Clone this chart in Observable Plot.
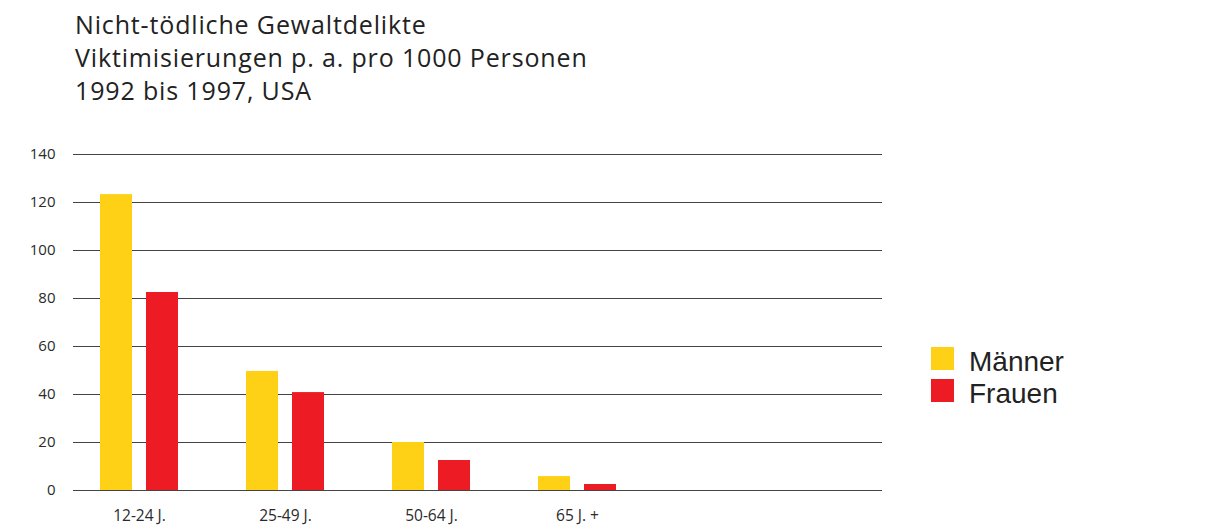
<!DOCTYPE html>
<html>
<head>
<meta charset="utf-8">
<script src="https://cdn.jsdelivr.net/npm/d3@7"></script>
<script src="https://cdn.jsdelivr.net/npm/@observablehq/plot@0.6"></script>
<style>
  html, body { margin: 0; padding: 0; background: #fff; }
  body { width: 1217px; height: 529px; position: relative; overflow: hidden; font-family: "Open Sans", "DejaVu Sans", sans-serif; }
  #title { position: absolute; left: 75px; top: 8px; font-size: 25px; line-height: 33px; letter-spacing: 0.85px; color: #222; }
  #chart { position: absolute; left: 0; top: 120px; }
  #legend { position: absolute; left: 931px; top: 347px; font-family: "Liberation Sans", Arial, sans-serif; font-size: 28px; color: #222; }
  .item { display: flex; align-items: flex-start; height: 23px; margin-bottom: 9px; }
  .item span { position: relative; top: 3px; line-height: 23px; display: block; height: 23px; }
  .sw { width: 23px; height: 23px; margin-right: 15px; }
</style>
</head>
<body>
<div id="title">Nicht-tödliche Gewaltdelikte<br>Viktimisierungen p. a. pro 1000 Personen<br>1992 bis 1997, USA</div>
<div id="chart"></div>
<div id="legend"></div>
<script>
const groups = ["12-24 J.", "25-49 J.", "50-64 J.", "65 J. +"];
const series = ["Männer", "Frauen"];
const maenner = [123.3, 49.6, 20.0, 5.8];
const frauen = [82.5, 40.8, 12.5, 2.5];
const yTicks = [0, 20, 40, 60, 80, 100, 120, 140];
const colors = ["#fed116", "#ed1c24"];

const data = [];
groups.forEach((g, i) => {
  data.push({group: g, sex: series[0], value: maenner[i]});
  data.push({group: g, sex: series[1], value: frauen[i]});
});

const plot = Plot.plot({
  width: 1217,
  height: 409,
  marginLeft: 73,
  marginRight: 335,
  marginTop: 34,
  marginBottom: 39,
  style: {fontFamily: "'Open Sans', 'DejaVu Sans', sans-serif", fontSize: "15px", color: "#2a2a2a", background: "#fff"},
  x: {domain: groups, range: [65, 650], padding: 0, label: null},
  y: {domain: [0, 140], ticks: yTicks, label: null},
  color: {domain: series, range: colors},
  marks: [
    Plot.ruleY(yTicks, {stroke: "#444", strokeWidth: 1.2}),
    Plot.barY(data.filter(d => d.sex === series[0]), {x: "group", y: "value", fill: "sex", insetLeft: 34, insetRight: 80}),
    Plot.barY(data.filter(d => d.sex === series[1]), {x: "group", y: "value", fill: "sex", insetLeft: 80, insetRight: 34}),
    Plot.axisY({ticks: yTicks, tickSize: 0, tickPadding: 18, fontSize: 15}),
    Plot.axisX({tickSize: 0, tickPadding: 19, fontSize: 15.5})
  ]
});
document.getElementById("chart").appendChild(plot);

const legend = document.getElementById("legend");
series.forEach((s, i) => {
  const it = document.createElement("div");
  it.className = "item";
  it.innerHTML = `<div class="sw" style="background:${colors[i]}"></div><span>${s}</span>`;
  legend.appendChild(it);
});
</script>
</body>
</html>
